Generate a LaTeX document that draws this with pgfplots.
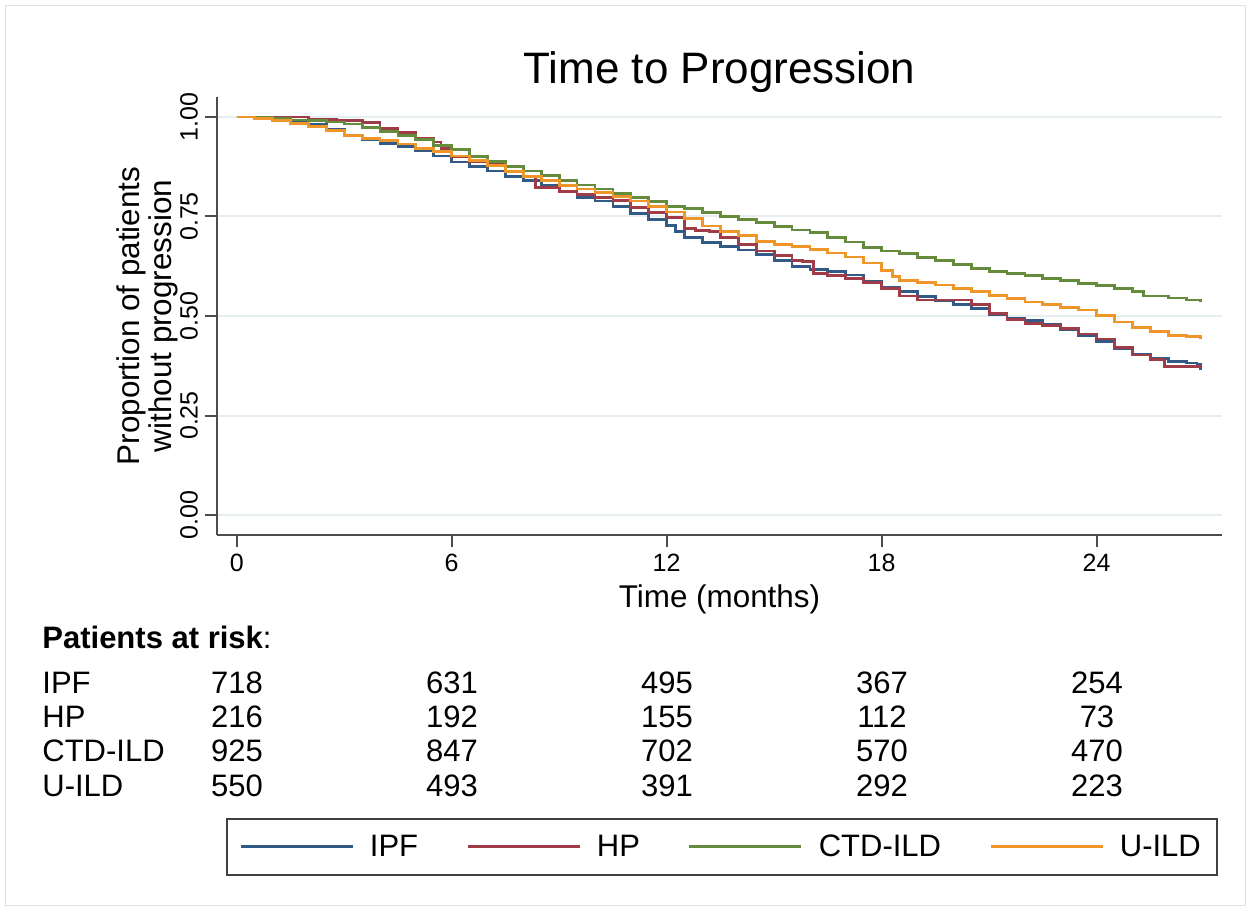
\documentclass[border=0pt]{standalone}
\usepackage{fontspec}
\setmainfont{Liberation Sans}
\usepackage{pgfplots}
\pgfplotsset{compat=1.18}
\usepackage{pgfplotstable}

\definecolor{ipf}{RGB}{50,90,135}
\definecolor{hp}{RGB}{160,60,72}
\definecolor{ctd}{RGB}{100,140,60}
\definecolor{uild}{RGB}{240,150,40}
\definecolor{gridc}{RGB}{230,238,241}

% Kaplan-Meier estimates (months, proportion)
\pgfplotstableread{
t s
0 1.000
0.5 0.998
1.0 0.994
1.5 0.990
2.0 0.982
2.5 0.968
3.0 0.953
3.5 0.942
4.0 0.933
4.5 0.926
5.0 0.915
5.5 0.902
6.0 0.887
6.5 0.876
7.0 0.864
7.5 0.851
8.0 0.840
8.5 0.828
9.0 0.812
9.5 0.798
10.0 0.789
10.5 0.775
11.0 0.758
11.5 0.743
12.0 0.728
12.25 0.712
12.5 0.698
13.0 0.684
13.5 0.675
14.0 0.666
14.5 0.655
15.0 0.640
15.5 0.624
16.0 0.617
16.5 0.611
17.0 0.603
17.5 0.587
18.0 0.571
18.5 0.561
19.0 0.548
19.5 0.538
20.0 0.529
20.5 0.518
21.0 0.503
21.5 0.495
22.0 0.489
22.5 0.478
23.0 0.467
23.5 0.452
24.0 0.436
24.5 0.418
25.0 0.404
25.5 0.393
26.0 0.385
26.5 0.382
26.8 0.378
26.9 0.365
}\ipf

\pgfplotstableread{
t s
0 1.000
2.0 0.994
2.8 0.990
3.4 0.990
3.5 0.985
4.0 0.970
4.5 0.960
5.0 0.945
5.5 0.937
5.7 0.920
6.0 0.900
6.5 0.888
7.0 0.880
7.5 0.862
8.0 0.851
8.35 0.823
9.0 0.812
9.5 0.805
10.0 0.798
10.5 0.790
11.0 0.772
11.5 0.760
12.0 0.748
12.5 0.720
12.8 0.715
13.2 0.712
13.5 0.698
14.0 0.679
14.5 0.663
15.0 0.652
15.5 0.640
15.8 0.636
16.1 0.607
16.5 0.602
17.0 0.594
17.5 0.584
18.0 0.570
18.5 0.550
19.0 0.540
20.0 0.540
20.5 0.528
21.0 0.507
21.5 0.492
22.0 0.482
22.5 0.476
23.0 0.469
23.5 0.455
24.0 0.442
24.5 0.420
25.0 0.402
25.5 0.390
25.9 0.373
26.9 0.373
}\hp

\pgfplotstableread{
t s
0 1.000
0.5 0.998
1.0 0.995
1.5 0.992
2.0 0.990
2.5 0.987
3.0 0.982
3.5 0.973
4.0 0.963
4.5 0.953
5.0 0.943
5.5 0.928
6.0 0.918
6.5 0.900
7.0 0.888
7.5 0.875
8.0 0.864
8.5 0.853
9.0 0.840
9.5 0.829
10.0 0.819
10.5 0.808
11.0 0.797
11.5 0.787
12.0 0.776
12.5 0.769
13.0 0.759
13.5 0.750
14.0 0.742
14.5 0.734
15.0 0.724
15.5 0.716
16.0 0.709
16.5 0.698
17.0 0.686
17.5 0.672
18.0 0.663
18.5 0.657
19.0 0.647
19.5 0.639
20.0 0.629
20.5 0.620
21.0 0.611
21.5 0.606
22.0 0.601
22.5 0.595
23.0 0.589
23.5 0.582
24.0 0.577
24.5 0.570
25.0 0.561
25.3 0.550
26.0 0.545
26.5 0.540
26.9 0.536
}\ctd

\pgfplotstableread{
t s
0 1.000
0.5 0.997
1.0 0.990
1.5 0.984
2.0 0.976
2.5 0.966
3.0 0.954
3.5 0.946
4.0 0.940
4.5 0.932
5.0 0.920
5.5 0.913
6.0 0.902
6.5 0.890
7.0 0.877
7.5 0.863
8.0 0.851
8.5 0.840
9.0 0.828
9.5 0.819
10.0 0.810
10.5 0.800
11.0 0.789
11.5 0.774
12.0 0.761
12.5 0.744
13.0 0.726
13.5 0.712
14.0 0.702
14.5 0.688
15.0 0.680
15.5 0.675
16.0 0.667
16.5 0.658
17.0 0.648
17.5 0.633
18.0 0.615
18.3 0.600
18.5 0.590
19.0 0.585
19.5 0.578
20.0 0.570
20.5 0.561
21.0 0.552
21.5 0.543
22.0 0.535
22.5 0.529
23.0 0.522
23.5 0.515
24.0 0.502
24.5 0.485
25.0 0.472
25.5 0.462
26.0 0.452
26.5 0.448
26.8 0.448
26.9 0.442
}\uild

\begin{document}
\begin{tikzpicture}
\useasboundingbox (-108.5pt,-187.5pt) rectangle (516.5pt,267.5pt);

% risk table and frame, placed in pixel units of the reference
\begin{scope}[shift={(-108.5pt,267.5pt)}, x=0.5pt, y=-0.5pt,
  every node/.style={inner sep=0pt, font=\fontsize{15.5}{18}\selectfont}]
\draw[black!12] (5,5) rectangle (1245,905);
\node[anchor=west] at (42,637) {\textbf{Patients at risk}:};
\node[anchor=west] at (42,683) {IPF};
\node[anchor=west] at (42,717) {HP};
\node[anchor=west] at (42,751) {CTD-ILD};
\node[anchor=west] at (42,786) {U-ILD};
\foreach \x/\a/\b/\c/\d in {237/718/216/925/550, 452/631/192/847/493,
    667/495/155/702/391, 882/367/112/570/292, 1097/254/73/470/223} {
  \node at (\x,683) {\a};
  \node at (\x,717) {\b};
  \node at (\x,751) {\c};
  \node at (\x,786) {\d};
}
\end{scope}

\begin{axis}[
  at={(0,0)}, anchor=south west,
  width=502.5pt, height=219pt, scale only axis,
  xmin=-0.55, xmax=27.5, ymin=-0.05, ymax=1.05,
  axis x line*=bottom, axis y line*=left,
  axis line style={black!70, line width=1pt, -},
  xtick={0,6,12,18,24}, xticklabels={0,6,12,18,24},
  ytick={0,0.25,0.5,0.75,1}, yticklabels={0.00,0.25,0.50,0.75,1.00},
  tick align=outside, major tick length=6pt,
  tick style={black!70, line width=1pt},
  ymajorgrids, grid style={gridc, line width=1pt},
  ticklabel style={font=\fontsize{12.5}{15}\selectfont},
  yticklabel style={rotate=90, anchor=south},
  title={Time to Progression},
  title style={at={(axis description cs:0.5,1.03)}, anchor=center,
    font=\fontsize{22}{26}\selectfont},
  xlabel={Time (months)},
  xlabel style={at={(axis description cs:0.5,-0.148)}, anchor=center,
    font=\fontsize{15.7}{18}\selectfont},
  ylabel={Proportion of patients\\without progression},
  ylabel style={at={(axis description cs:-0.0696,0.5)}, anchor=center,
    align=center, font=\fontsize{15.7}{16}\selectfont},
  legend columns=4,
  legend style={at={(0.5025,-0.712)}, anchor=center, draw=black!75,
    line width=1pt, font=\fontsize{15.5}{18}\selectfont,
    inner xsep=6pt, inner ysep=6pt,
    /tikz/every odd column/.append style={column sep=6pt},
    /tikz/every even column/.append style={column sep=22pt}},
  legend image code/.code={\draw[#1, line width=1.4pt] (0pt,0pt) -- (56pt,0pt);},
  every axis plot/.append style={line width=1.4pt, const plot, no marks},
]
\addplot[ipf] table[x=t, y=s] {\ipf};
\addplot[hp] table[x=t, y=s] {\hp};
\addplot[ctd] table[x=t, y=s] {\ctd};
\addplot[uild] table[x=t, y=s] {\uild};
\legend{IPF, HP, CTD-ILD, U-ILD}
\end{axis}
\end{tikzpicture}
\end{document}
